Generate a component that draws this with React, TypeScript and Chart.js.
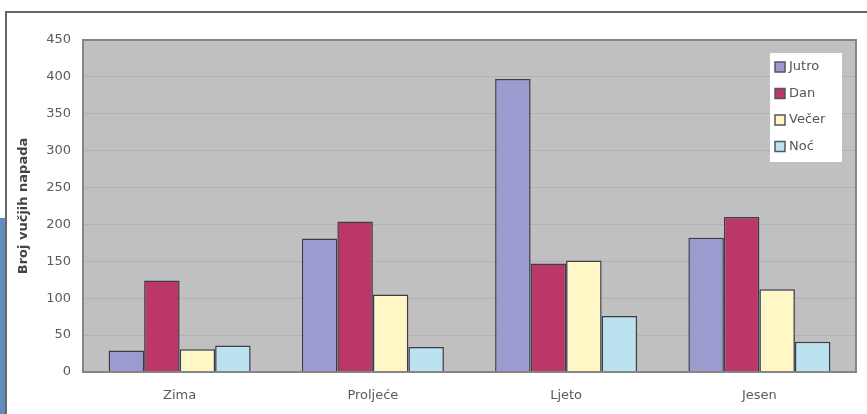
import React, { useEffect, useRef } from "react";
import { Chart, registerables } from "chart.js";

Chart.register(...registerables);

// Seasons on the category axis
const seasons = ["Zima", "Proljeće", "Ljeto", "Jesen"];

// Number of wolf attacks per time of day, per season
const jutro = [29, 181, 397, 182];
const dan = [124, 204, 147, 210];
const vecer = [31, 105, 151, 112];
const noc = [36, 34, 76, 41];

const seriesNames = ["Jutro", "Dan", "Večer", "Noć"];
const seriesColors = ["#9b9bd0", "#bb3768", "#fff8c6", "#bbe3ef"];

const yTitle = "Broj vučjih napada";

const FONT = "'DejaVu Sans', Verdana, sans-serif";

// grey plot background, drawn behind grid and bars, with a grey frame on top
const plotBackground = {
  id: "plotBackground",
  beforeDraw(chart: any) {
    const { ctx, chartArea: a } = chart;
    ctx.save();
    ctx.fillStyle = "#c0c0c0";
    ctx.fillRect(a.left, a.top, a.right - a.left, a.bottom - a.top);
    ctx.restore();
  },
  afterDraw(chart: any) {
    const { ctx, chartArea: a } = chart;
    ctx.save();
    ctx.strokeStyle = "#858585";
    ctx.lineWidth = 2;
    ctx.strokeRect(a.left, a.top, a.right - a.left, a.bottom - a.top);
    ctx.restore();
  },
};

// white boxed legend in the top-right corner of the plot
const boxLegend = {
  id: "boxLegend",
  afterDraw(chart: any) {
    const { ctx, chartArea: a } = chart;
    const boxW = 72;
    const boxH = 109;
    const x0 = a.right - 86;
    const y0 = a.top + 13;
    ctx.save();
    ctx.fillStyle = "#ffffff";
    ctx.fillRect(x0, y0, boxW, boxH);
    ctx.font = `13px ${FONT}`;
    ctx.textBaseline = "middle";
    chart.data.datasets.forEach((ds: any, i: number) => {
      const cy = y0 + 14 + i * 26.5;
      ctx.fillStyle = ds.backgroundColor;
      ctx.fillRect(x0 + 5, cy - 5, 10, 10);
      ctx.strokeStyle = "#555566";
      ctx.lineWidth = 1.5;
      ctx.strokeRect(x0 + 5, cy - 5, 10, 10);
      ctx.fillStyle = "#555555";
      ctx.fillText(ds.label, x0 + 19, cy);
    });
    ctx.restore();
  },
};

export default function App() {
  const canvasRef = useRef<HTMLCanvasElement | null>(null);

  useEffect(() => {
    document.body.style.margin = "0";
    const values = [jutro, dan, vecer, noc];
    const chart = new Chart(canvasRef.current as HTMLCanvasElement, {
      type: "bar",
      data: {
        labels: seasons,
        datasets: seriesNames.map((name, i) => ({
          label: name,
          data: values[i],
          backgroundColor: seriesColors[i],
          borderColor: "#3c3c4c",
          borderWidth: 1.5,
          barPercentage: 1.0,
          categoryPercentage: 0.735,
        })),
      },
      options: {
        responsive: false,
        animation: false,
        layout: { padding: { left: 0, top: 40, right: 11, bottom: 0 } },
        plugins: {
          legend: { display: false },
          tooltip: { enabled: false },
        },
        scales: {
          x: {
            grid: { display: false },
            border: { display: true, color: "#858585", width: 2 },
            ticks: {
              color: "#5a5a5a",
              font: { family: FONT, size: 13 },
              padding: 8,
            },
            afterFit(scale: any) {
              scale.height = 42;
            },
          },
          y: {
            min: 0,
            max: 450,
            ticks: {
              stepSize: 50,
              color: "#5a5a5a",
              font: { family: FONT, size: 13 },
              padding: 12,
            },
            grid: {
              color: "#b2b2b2",
              lineWidth: 1,
              drawTicks: false,
            },
            border: { display: true, color: "#858585", width: 2 },
            title: {
              display: true,
              text: yTitle,
              color: "#444444",
              font: { family: FONT, size: 13, weight: "bold" },
              padding: { top: 16, bottom: 0 },
            },
            afterFit(scale: any) {
              scale.width = 83;
            },
          },
        },
      },
      plugins: [plotBackground, boxLegend],
    });
    return () => chart.destroy();
  }, []);

  return (
    <div style={{ position: "relative", width: 867, height: 414, background: "#ffffff", overflow: "hidden" }}>
      <div
        style={{
          position: "absolute",
          left: 5,
          top: 11,
          width: 870,
          height: 410,
          borderTop: "2px solid #666666",
          borderLeft: "2px solid #666666",
        }}
      />
      <div
        style={{
          position: "absolute",
          left: 0,
          top: 218,
          width: 5,
          height: 196,
          background: "#5f8cbc",
        }}
      />
      <canvas
        ref={canvasRef}
        width={867}
        height={414}
        style={{ position: "absolute", left: 0, top: 0 }}
      />
    </div>
  );
}
